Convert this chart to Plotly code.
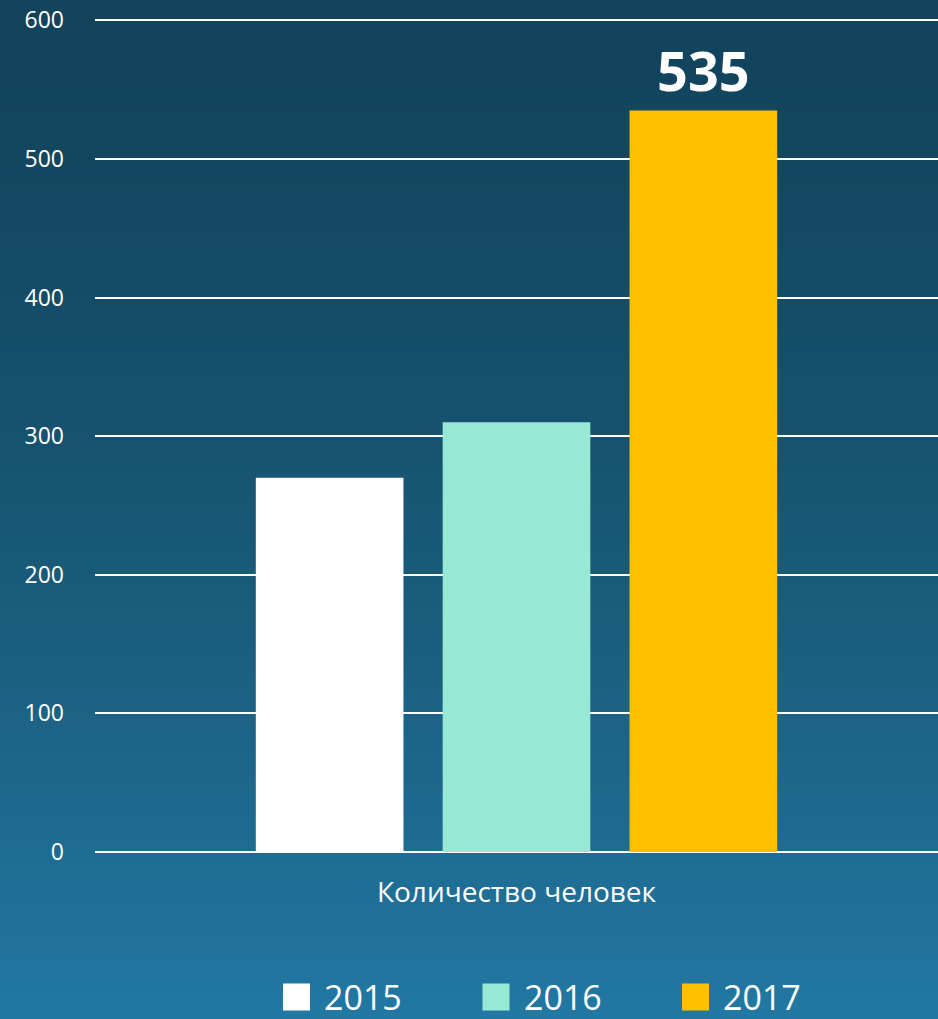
import plotly.graph_objects as go

categories = ["Количество человек"]
years = ["2015", "2016", "2017"]
values_2015 = [270]
values_2016 = [310]
values_2017 = [535]
series_values = [values_2015, values_2016, values_2017]
colors = ["#ffffff", "#98e8d6", "#ffc000"]
bar_labels = ["", "", "535"]
y_ticks = [0, 100, 200, 300, 400, 500, 600]

W, H = 938, 1019
l, r, t, b = 95, 0, 19, 167
pw, ph = W - l - r, H - t - b


def px_x(x):
    return (x - l) / pw


def px_y(y):
    return 1 - (y - t) / ph


fig = go.Figure()
for name, vals, col, lab in zip(years, series_values, colors, bar_labels):
    fig.add_trace(go.Bar(
        x=categories, y=vals, name=name, marker=dict(color=col, line=dict(width=0)),
        text=[lab] if lab else None, textposition="outside", cliponaxis=False,
        textfont=dict(family="Open Sans", size=54, color="white", weight="bold"),
        showlegend=False, hoverinfo="skip"))

# background gradient bands
top = (18, 68, 92)
bottom = (34, 120, 162)
n = 80
shapes = []
for i in range(n):
    f = i / (n - 1)
    c = tuple(int(round(top[k] + (bottom[k] - top[k]) * f ** 1.5)) for k in range(3))
    y0_px = H * i / n - (2 if i == 0 else 0)
    y1_px = H * (i + 1) / n + (3 if i == n - 1 else 1)
    shapes.append(dict(type="rect", xref="paper", yref="paper",
                       x0=px_x(-2), x1=px_x(W + 2), y0=px_y(y1_px), y1=px_y(y0_px),
                       fillcolor="rgb(%d,%d,%d)" % c, line=dict(width=0), layer="below"))

# custom legend (swatches + labels)
annotations = []
sw = 27
leg_x0, leg_step, leg_yc = 283, 199.5, 997
for i, (name, col) in enumerate(zip(years, colors)):
    x0 = leg_x0 + i * leg_step
    shapes.append(dict(type="rect", xref="paper", yref="paper",
                       x0=px_x(x0), x1=px_x(x0 + sw),
                       y0=px_y(leg_yc + sw / 2), y1=px_y(leg_yc - sw / 2),
                       fillcolor=col, line=dict(width=0), layer="above"))
    annotations.append(dict(xref="paper", yref="paper", x=px_x(x0 + sw + 12),
                            y=px_y(leg_yc), xanchor="left", yanchor="middle",
                            text=name, showarrow=False,
                            font=dict(family="Open Sans", size=34, color="white")))

fig.update_layout(
    width=W, height=H,
    margin=dict(l=l, r=r, t=t, b=b),
    paper_bgcolor="rgb(24,88,118)",
    plot_bgcolor="rgba(0,0,0,0)",
    shapes=shapes,
    annotations=annotations,
    showlegend=False,
    barmode="group",
    bargap=0.335,
    bargroupgap=0.21,
    font=dict(family="Open Sans", color="white"),
    xaxis=dict(showgrid=False, showline=False, zeroline=False,
               tickfont=dict(size=28, color="white"), ticklabelstandoff=21),
    yaxis=dict(range=[0, 601], tickvals=y_ticks, showgrid=True, gridcolor="white",
               gridwidth=2, zeroline=True, zerolinecolor="white", zerolinewidth=2,
               showline=False, tickfont=dict(size=23, color="white"),
               ticklabelstandoff=30),
)

fig.write_html("out.html", config={"displayModeBar": False},
               post_script="document.body.style.margin='0';document.body.style.overflow='hidden';")
